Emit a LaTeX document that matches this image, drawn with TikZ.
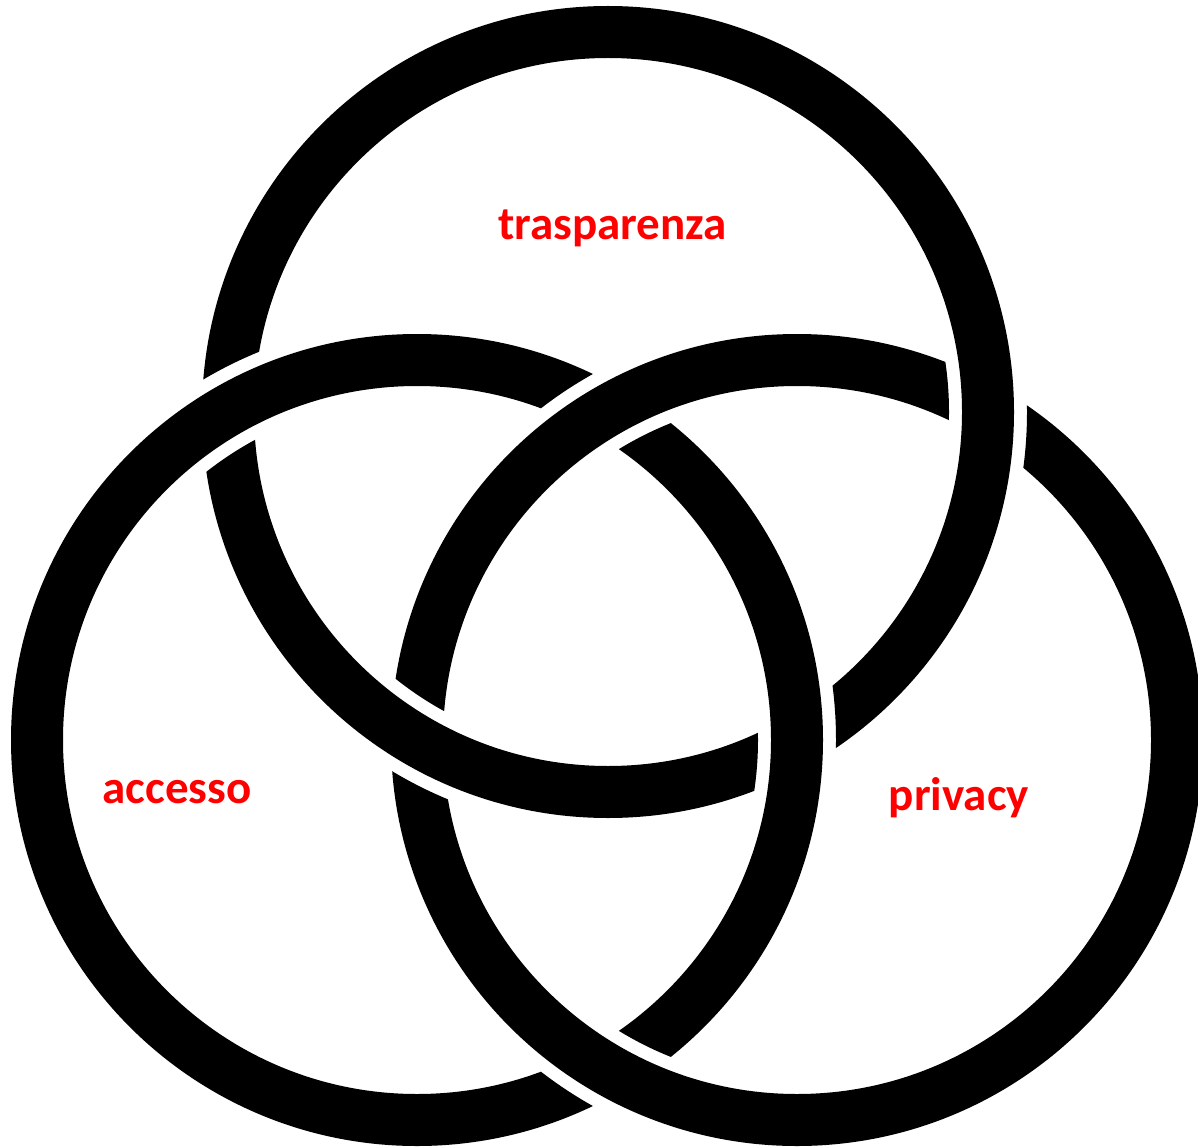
\documentclass[tikz,border=0pt]{standalone}
\usepackage{fontspec}
\setmainfont{Carlito}
\begin{document}
\begin{tikzpicture}[x=1pt,y=1pt,
  ring/.style={line width=52pt, draw=black},
  lbl/.style={text=red, font=\fontsize{47}{56}\selectfont\bfseries, anchor=base, inner sep=0pt}]
\clip (0,0) rectangle (1198,-1147);
\fill[white] (0,0) rectangle (1198,-1147);
\coordinate (T) at (608,-412);
\coordinate (L) at (417,-740);
\coordinate (R) at (797,-740);
% T ring: passes under L
\begin{scope}[even odd rule]
  \clip (-20,20) rectangle (1220,-1170) (L) circle[radius=419] (L) circle[radius=341];
  \draw[ring] (T) circle[radius=380];
\end{scope}
% R ring: passes under T
\begin{scope}[even odd rule]
  \clip (-20,20) rectangle (1220,-1170) (T) circle[radius=419] (T) circle[radius=341];
  \draw[ring] (R) circle[radius=380];
\end{scope}
% L ring: passes under R
\begin{scope}[even odd rule]
  \clip (-20,20) rectangle (1220,-1170) (R) circle[radius=419] (R) circle[radius=341];
  \draw[ring] (L) circle[radius=380];
\end{scope}
% labels
\node[lbl] (trasp) at (612.5,-240) {trasparenza};
\node[lbl] (acc) at (177,-803) {accesso};
\node[lbl] (priv) at (959,-810) {privacy};
\end{tikzpicture}
\end{document}
